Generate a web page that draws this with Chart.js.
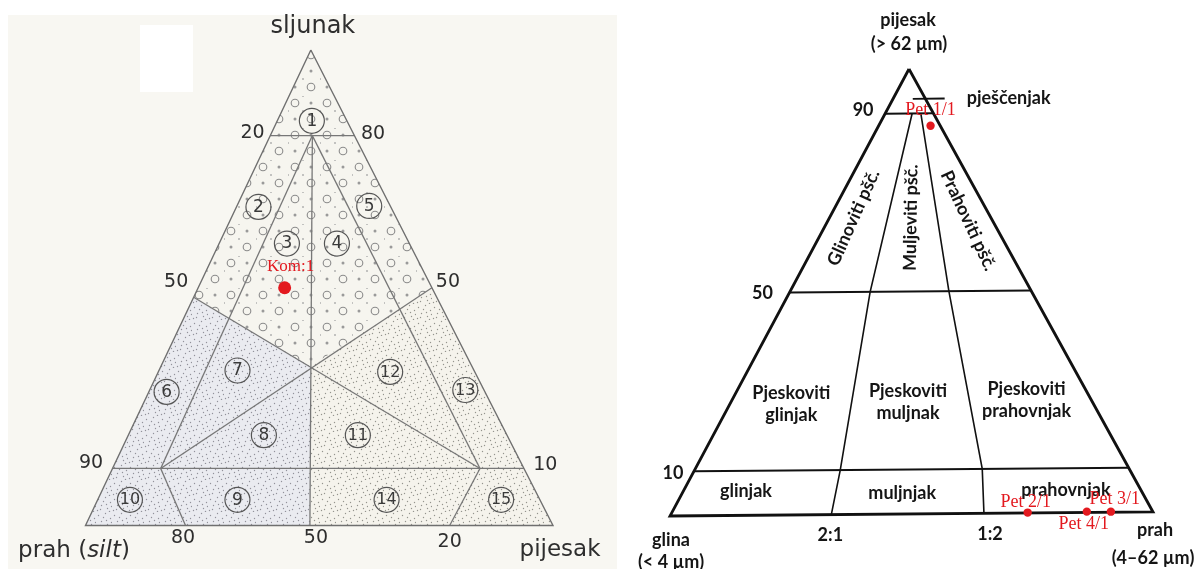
<!DOCTYPE html>
<html><head><meta charset="utf-8">
<script src="https://cdn.jsdelivr.net/npm/chart.js@4.4.1/dist/chart.umd.min.js"></script>
<style>
html,body{margin:0;padding:0;background:#fff;width:1201px;height:569px;overflow:hidden;position:relative}
#bgL{position:absolute;left:8px;top:15px;width:609px;height:554px;background:#f8f7f2}
#patch{position:absolute;left:140px;top:25px;width:53px;height:67px;background:#fff}
#cL{position:absolute;left:0;top:0}
#cR{position:absolute;left:617px;top:0}
</style></head><body>
<div id="bgL"></div><div id="patch"></div>
<canvas id="cL" width="617" height="569"></canvas>
<canvas id="cR" width="584" height="569"></canvas>
<script>
// ================= DATA =================
// Left diagram: points given as [gravel %, sand %]  (silt = 100 - gravel - sand)
const leftOutline = [[100,0],[0,0],[0,100],[100,0]];
const leftLines = [
  [[82,0],[82,18]],
  [[82,9],[12,10.3]],
  [[82,9],[12,78.6]],
  [[82,9],[0,48]],
  [[48,0],[12,78.6]],
  [[50,50],[12,10.3]],
  [[12,0],[12,88]],
  [[12,10.3],[0,21.4]],
  [[12,78.6],[0,77.9]]
];
const leftZoneGravel = [[100,0],[48,0],[33.5,32],[50,50],[100,0]];
const leftZoneBlue   = [[48,0],[33.5,32],[12,42.2],[0,48],[0,0],[48,0]];
const leftZoneCream  = [[33.5,32],[50,50],[0,100],[0,48],[12,42.2],[33.5,32]];
const leftRegionNames = ['1','2','3','4','5','6','7','8','9','10','11','12','13','14','15'];
const leftRegionGravel = [85.1,67,59.3,59.3,67.2,28.1,32.6,19,5.4,5.4,19,32.3,28.5,5.4,5.4];
const leftRegionSand   = [7.4,4.7,14.5,25.2,28.3,3.8,16.8,29,29.9,6.9,49.1,49.6,67.5,61.8,86.3];
const leftTickLabels = ['20','80','50','50','90','10','80','50','20'];
const leftSampleNames = ['Kom:1'];
const leftSampleGravel = [50];
const leftSampleSand = [18.5];

// Right diagram: points given as [sand %, silt %]  (clay = 100 - sand - silt)
const rightOutline = [[100,0],[0,0],[0,100],[100,0]];
const rightLevels = [90,50,10];
const rightLevelLabels = ['90','50','10'];
const rightDividers = [
  [[90,5.6],[50,16.7],[10,30.3],[0,33.4]],
  [[90,7.4],[50,33],[10,59.7],[0,65]]
];
const rightLeader = [[93.3,4.1],[93.3,10.7]];
const rightRatioLabels = ['2:1','1:2'];
const rightSampleNames = ['Pet 1/1','Pet 2/1','Pet 3/1','Pet 4/1'];
const rightSampleSand = [87.2,0.1,0.15,0.2];
const rightSampleSilt = [10.8,74.0,91.2,86.2];

// ================= LAYOUT / STYLE =================
const Lp = (g,s) => ({x: s + 0.482*g, y: g});
const Rp = (sa,si) => ({x: si + 0.4948*sa, y: sa + 0.009*si});

const DV = '"DejaVu Sans"', LT = 'Lato', SF = '"Liberation Serif"';
const RED = '#e3191f';

function tile(ctx, w, h, bg, draw){
  const c = document.createElement('canvas'); c.width=w; c.height=h;
  const x = c.getContext('2d'); x.fillStyle=bg; x.fillRect(0,0,w,h); draw(x);
  return ctx.createPattern(c,'repeat');
}
const stip = [[2,3],[9,1],[14,6],[5,9],[11,12],[1,14],[7,5],[13,15],[4,13],[15,10],[10,8]];
function dots(x,col){ x.fillStyle=col; stip.forEach(p=>{x.beginPath();x.arc(p[0]+.5,p[1]+.5,0.7,0,7);x.fill();}); }

function makeLabelPlugin(proj, items){
  return {
    id:'txt',
    afterDatasetsDraw(chart){
      const ctx=chart.ctx, xs=chart.scales.x, ys=chart.scales.y;
      items.forEach(it=>{
        const p=proj(it.at[0],it.at[1]);
        const px=xs.getPixelForValue(p.x)+(it.dx||0), py=ys.getPixelForValue(p.y)+(it.dy||0);
        ctx.save(); ctx.translate(px,py); if(it.rot) ctx.rotate(it.rot*Math.PI/180);
        ctx.fillStyle=it.color; ctx.textBaseline='middle';
        if(it.parts){
          let total=0; it.parts.forEach(pt=>{ctx.font=pt.font; total+=ctx.measureText(pt.t).width;});
          let x=-total/2; ctx.textAlign='left';
          it.parts.forEach(pt=>{ctx.font=pt.font; ctx.fillText(pt.t,x,0); x+=ctx.measureText(pt.t).width;});
        } else {
          ctx.font=it.font; ctx.textAlign=it.align||'center'; ctx.fillText(it.text,0,0);
        }
        ctx.restore();
      });
    }
  };
}

function lineDS(pts, proj, o){
  return Object.assign({data: pts.map(p=>proj(p[0],p[1])), showLine:true, pointRadius:0, pointHoverRadius:0,
    borderColor:'#777', borderWidth:1.3, fill:false, tension:0, clip:false, order:5}, o||{});
}
function zoneDS(pts, proj, pat){
  return {data: pts.map(p=>proj(p[0],p[1])), showLine:true, pointRadius:0, borderWidth:0, borderColor:'rgba(0,0,0,0)',
    backgroundColor:pat, fill:'shape', tension:0, clip:false, order:10};
}
function baseOpts(pad){
  return {responsive:false, animation:false, devicePixelRatio:1, events:[],
    layout:{padding:pad},
    plugins:{legend:{display:false}, tooltip:{enabled:false}},
    scales:{x:{type:'linear',display:false,min:0,max:100}, y:{type:'linear',display:false,min:0,max:100}}};
}

// ---------- LEFT CHART ----------
(function(){
  const cv=document.getElementById('cL'), ctx=cv.getContext('2d');
  const gravelPat = tile(ctx, 32, 32, '#f6f5ef', x=>{
    x.strokeStyle='#8a8a8a'; x.lineWidth=1.1;
    [[7,7],[23,23]].forEach(p=>{x.beginPath();x.arc(p[0],p[1],3.8,0,7);x.stroke();});
    x.fillStyle='#9a9a9a'; [[23,7],[7,23]].forEach(p=>{x.beginPath();x.arc(p[0],p[1],1.5,0,7);x.fill();});
    x.fillStyle='#b0b0b0'; [[15,15],[15,0],[0,15]].forEach(p=>{x.beginPath();x.arc(p[0],p[1],1.0,0,7);x.fill();});
  });
  const bluePat = tile(ctx,16,16,'#eaebf0', x=>dots(x,'#92929a'));
  const creamPat = tile(ctx,16,16,'#f5f3ec', x=>dots(x,'#94948e'));
  const ds=[];
  ds.push(zoneDS(leftZoneGravel,Lp,gravelPat));
  ds.push(zoneDS(leftZoneBlue,Lp,bluePat));
  ds.push(zoneDS(leftZoneCream,Lp,creamPat));
  ds.push(lineDS(leftOutline,Lp,{borderColor:'#6f6f6f',borderWidth:1.4,order:4}));
  leftLines.forEach(l=>ds.push(lineDS(l,Lp)));
  ds.push({data: leftRegionNames.map((n,i)=>Lp(leftRegionGravel[i],leftRegionSand[i])), showLine:false,
    pointRadius:12.5, pointStyle:'circle', pointBorderColor:'#555', pointBackgroundColor:'rgba(0,0,0,0)',
    pointBorderWidth:1.2, clip:false, order:3});
  ds.push({data: leftSampleNames.map((n,i)=>Lp(leftSampleGravel[i],leftSampleSand[i])), showLine:false,
    pointRadius:6.5, pointBackgroundColor:RED, pointBorderWidth:0, clip:false, order:1});

  const T='#2e2e2e';
  const items=[
    {text:'sljunak', at:[100,0], dx:2, dy:-23, font:'24px '+DV, color:T},
    {parts:[{t:'prah (',font:'23px '+DV},{t:'silt',font:'italic 23px '+DV},{t:')',font:'23px '+DV}], at:[0,0], dx:-11.5, dy:25.5, color:T},
    {text:'pijesak', at:[0,100], dx:7, dy:24.5, font:'23px '+DV, color:T},
    {text:leftTickLabels[0], at:[82,0], dx:-17.7, dy:-2.3, font:'19px '+DV, color:T},
    {text:leftTickLabels[1], at:[82,18], dx:18.7, dy:-2, font:'19px '+DV, color:T},
    {text:leftTickLabels[2], at:[48,0], dx:-17.5, dy:-15.6, font:'19px '+DV, color:T},
    {text:leftTickLabels[3], at:[50,50], dx:16, dy:-6, font:'19px '+DV, color:T},
    {text:leftTickLabels[4], at:[12,0], dx:-21.5, dy:-5.7, font:'19px '+DV, color:T},
    {text:leftTickLabels[5], at:[12,88], dx:21.4, dy:-3.4, font:'19px '+DV, color:T},
    {text:leftTickLabels[6], at:[0,21.4], dx:-2.5, dy:12.8, font:'19px '+DV, color:T},
    {text:leftTickLabels[7], at:[0,48], dx:6, dy:12.8, font:'19px '+DV, color:T},
    {text:leftTickLabels[8], at:[0,77.9], dx:0, dy:16.2, font:'19px '+DV, color:T}
  ];
  leftRegionNames.forEach((n,i)=>items.push({text:n, at:[leftRegionGravel[i],leftRegionSand[i]], dx:0, dy:0.5, font:(n.length>1?'16px ':'17px ')+DV, color:'#3a3a3a'}));
  leftSampleNames.forEach((n,i)=>items.push({text:n, at:[leftSampleGravel[i],leftSampleSand[i]], dx:6, dy:-21, font:'17px '+SF, color:RED}));

  const opts=baseOpts({left:85.5,right:64,top:50,bottom:43.5});
  new Chart(cv,{type:'line', data:{datasets:ds}, options:opts, plugins:[makeLabelPlugin(Lp,items)]});
})();

// ---------- RIGHT CHART ----------
(function(){
  const cv=document.getElementById('cR');
  const ds=[];
  const K='#111';
  ds.push(lineDS(rightOutline,Rp,{borderColor:K,borderWidth:2.8,order:4}));
  rightLevels.forEach(lv=>ds.push(lineDS([[lv,0],[lv,100-lv]],Rp,{borderColor:K,borderWidth:1.9})));
  rightDividers.forEach(d=>ds.push(lineDS(d,Rp,{borderColor:K,borderWidth:1.6})));
  ds.push(lineDS(rightLeader,Rp,{borderColor:K,borderWidth:1.8}));
  ds.push({data: rightSampleNames.map((n,i)=>Rp(rightSampleSand[i],rightSampleSilt[i])), showLine:false,
    pointRadius:4.2, pointBackgroundColor:RED, pointBorderWidth:0, clip:false, order:1});

  const B='bold 18px '+LT, T='#151515';
  const items=[
    {text:'pijesak', at:[100,0], dx:-1, dy:-49, font:B, color:T},
    {text:'(> 62 µm)', at:[100,0], dx:0, dy:-25, font:B, color:T},
    {text:rightLevelLabels[0], at:[90,0], dx:-22, dy:-4, font:B, color:T},
    {text:rightLevelLabels[1], at:[50,0], dx:-27, dy:0.5, font:B, color:T},
    {text:rightLevelLabels[2], at:[10,0], dx:-21, dy:1.5, font:B, color:T},
    {text:'pješčenjak', at:rightLeader[1], dx:22, dy:0, font:B, color:T, align:'left'},
    {text:'glina', at:[0,0], dx:1, dy:24, font:B, color:T},
    {text:'(< 4 µm)', at:[0,0], dx:1, dy:46, font:B, color:T},
    {text:'prah', at:[0,100], dx:2, dy:18, font:B, color:T},
    {text:'(4–62 µm)', at:[0,100], dx:0, dy:46, font:B, color:T},
    {text:rightRatioLabels[0], at:[0,33.4], dx:-1, dy:21, font:B, color:T},
    {text:rightRatioLabels[1], at:[0,65], dx:6, dy:21, font:B, color:T},
    {text:'Pjeskoviti', at:[24.9,12.8], dx:0, dy:-11, font:B, color:T},
    {text:'glinjak', at:[24.9,12.8], dx:0, dy:11, font:B, color:T},
    {text:'Pjeskoviti', at:[25.2,36.8], dx:0, dy:-11, font:B, color:T},
    {text:'muljnak', at:[25.2,36.8], dx:0, dy:11, font:B, color:T},
    {text:'Pjeskoviti', at:[25.3,61.3], dx:0, dy:-11, font:B, color:T},
    {text:'prahovnjak', at:[25.3,61.3], dx:0, dy:11, font:B, color:T},
    {text:'glinjak', at:[5.5,13], dx:0, dy:0, font:B, color:T},
    {text:'muljnjak', at:[4.8,45.7], dx:0, dy:0, font:B, color:T},
    {text:'prahovnjak', at:[5.0,79.5], dx:0, dy:0, font:B, color:T},
    {text:'Glinoviti pšč.', at:[66.7,5.0], dx:0, dy:0, rot:-66, font:B, color:T},
    {text:'Muljeviti pšč.', at:[66.6,16.9], dx:0, dy:0, rot:-89, font:B, color:T},
    {text:'Prahoviti pšč.', at:[65.8,29.2], dx:0, dy:0, rot:65, font:B, color:T}
  ];
  const off=[[0,-16],[-2,-10],[4,-12],[-3,13]];
  rightSampleNames.forEach((n,i)=>items.push({text:n, at:[rightSampleSand[i],rightSampleSilt[i]], dx:off[i][0], dy:off[i][1], font:'18px '+SF, color:RED}));

  const opts=baseOpts({left:53,right:48,top:69,bottom:53});
  new Chart(cv,{type:'line', data:{datasets:ds}, options:opts, plugins:[makeLabelPlugin(Rp,items)]});
})();
</script>
</body></html>
